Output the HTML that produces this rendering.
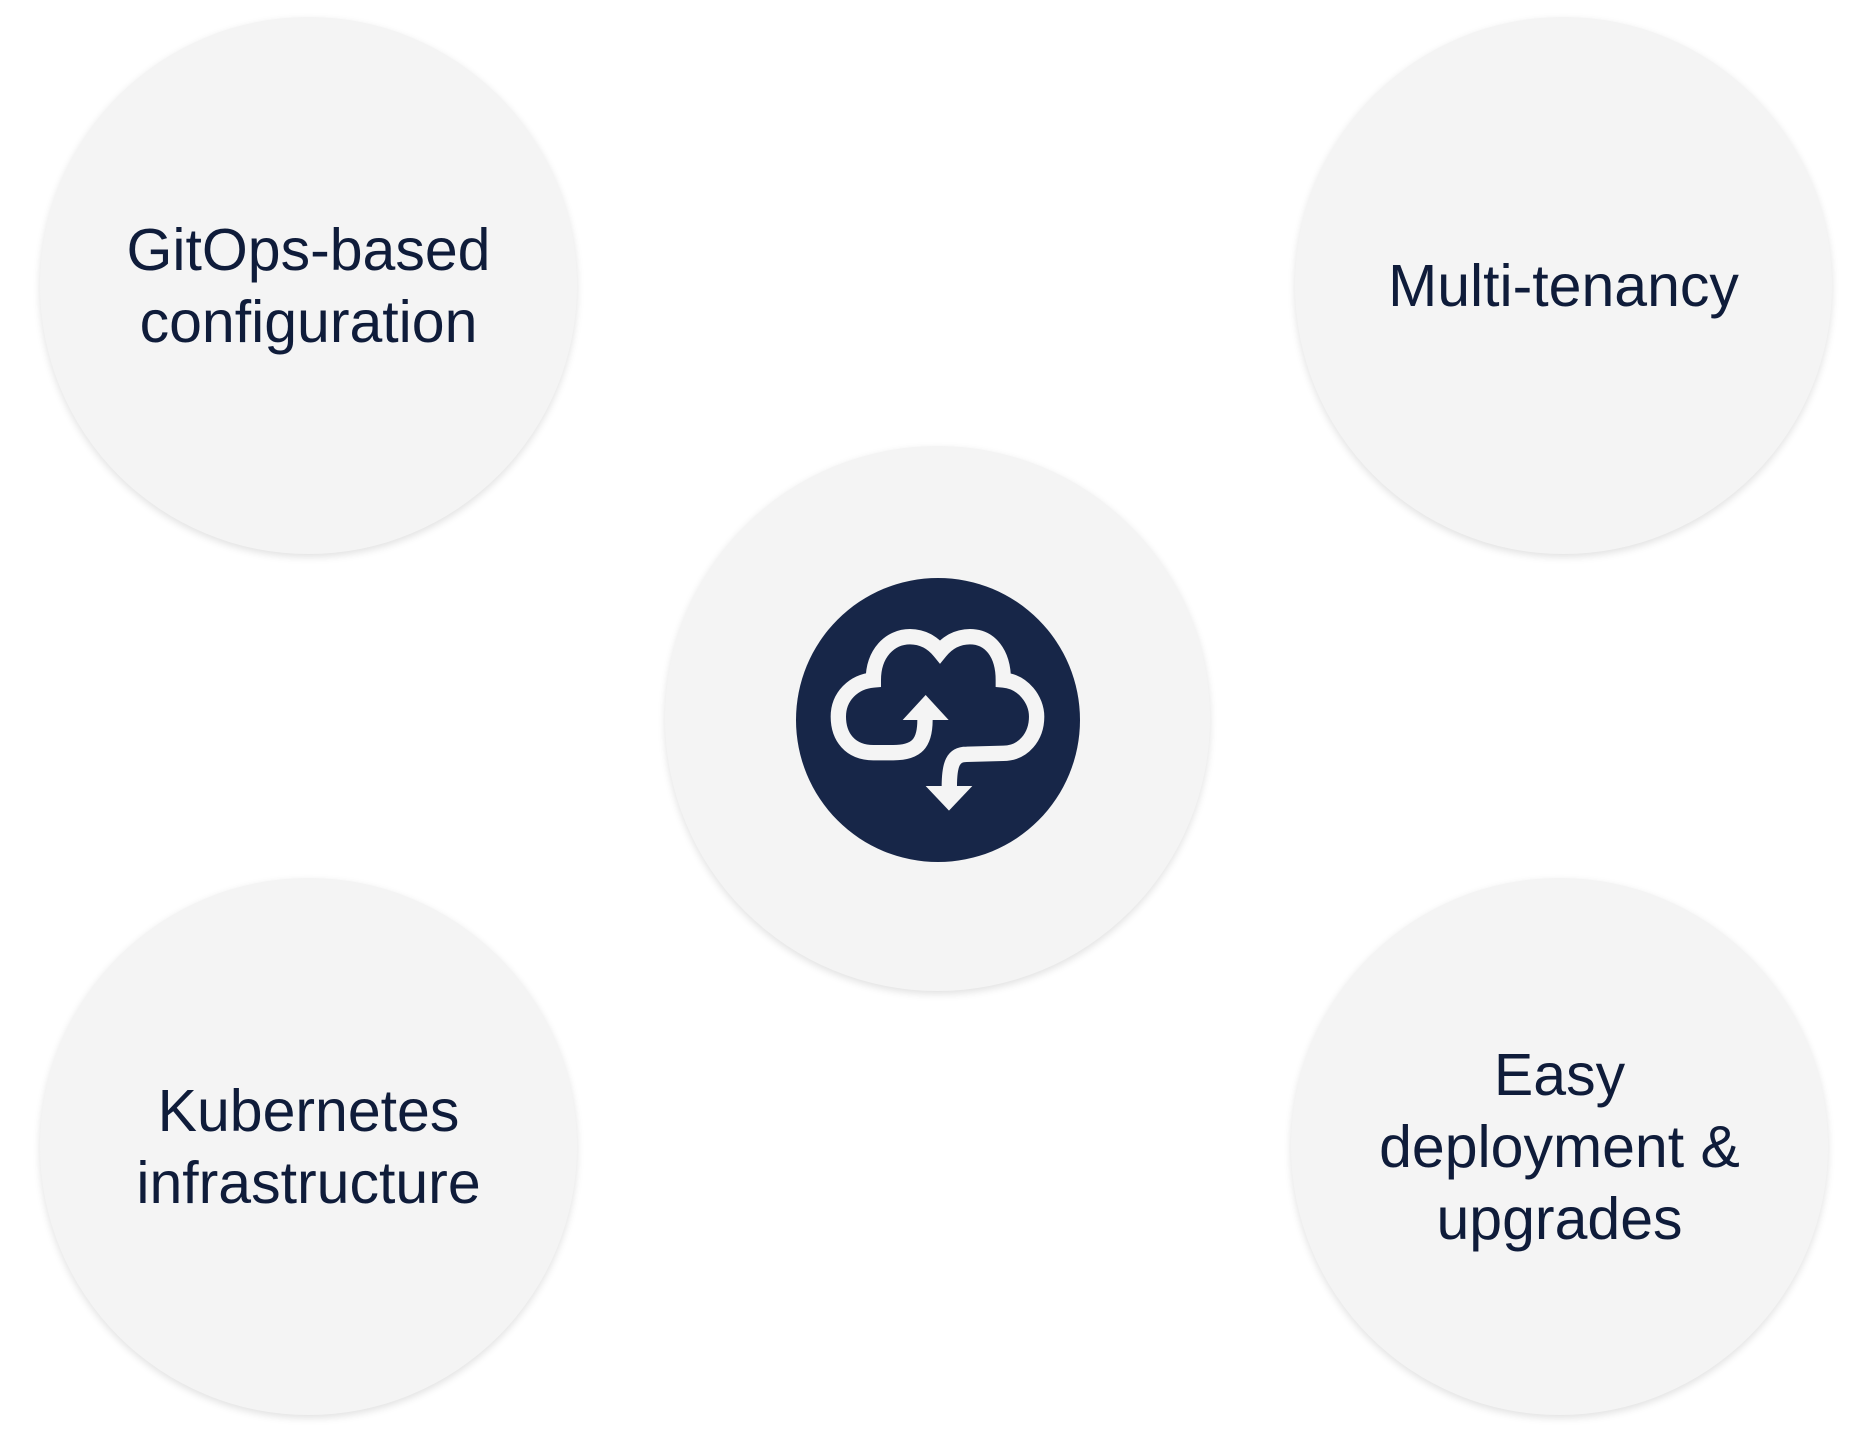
<!DOCTYPE html>
<html><head><meta charset="utf-8"><style>
html,body{margin:0;padding:0;background:#fff;}
body{width:1862px;height:1440px;position:relative;overflow:hidden;font-family:"Liberation Sans",sans-serif;}
.c{position:absolute;border-radius:50%;background:#f4f4f4;box-shadow:0 3px 8px rgba(0,0,0,0.12);display:flex;align-items:center;justify-content:center;text-align:center;color:#0f1c3a;font-size:59px;line-height:72px;}
</style></head><body>
<div class="c" style="left:40px;top:17px;width:537px;height:537px;">GitOps-based<br>configuration</div>
<div class="c" style="left:1295px;top:17px;width:537px;height:537px;">Multi-tenancy</div>
<div class="c" style="left:665px;top:446px;width:545px;height:545px;"></div>
<div class="c" style="left:40px;top:878px;width:537px;height:537px;">Kubernetes<br>infrastructure</div>
<div class="c" style="left:1291px;top:878px;width:537px;height:537px;">Easy<br>deployment &amp;<br>upgrades</div>
<svg style="position:absolute;left:0;top:0" width="1862" height="1440">
<circle cx="938" cy="720" r="142" fill="#172648"/>
<g transform="translate(790,570) scale(0.3333)">
<path d="M405,450 C405,520 380,548 310,548 L250,548 C180,548 145,500 145,440 C145,380 190,335 250,330 C250,250 300,200 360,200 C400,200 430,220 450,245 C470,220 500,200 540,200 C600,200 640,250 640,330 C700,335 740,390 740,440 C740,500 700,550 640,550 L530,553 C490,553 478,580 478,650" fill="none" stroke="#f4f4f4" stroke-width="46"/>
<polygon points="338,450 476,450 407,375" fill="#f4f4f4"/>
<polygon points="407,648 547,648 477,722" fill="#f4f4f4"/>
</g>
</svg>
</body></html>
